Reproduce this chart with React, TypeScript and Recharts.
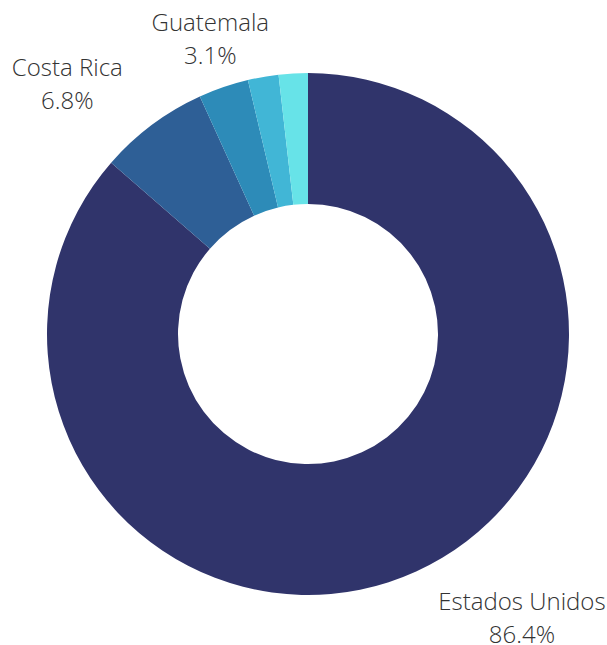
import { PieChart, Pie, Cell } from "recharts";

const countries = ["Estados Unidos", "Costa Rica", "Guatemala", "Otros A", "Otros B"];
const shares = [86.4, 6.8, 3.1, 1.9, 1.8];
const colors = ["#30346b", "#2e5f96", "#2d8bb8", "#41b6d6", "#67e3e8"];
const labeled = ["Estados Unidos", "Costa Rica", "Guatemala"];

const data = countries.map((name, i) => ({ name, value: shares[i] }));

const RADIAN = Math.PI / 180;
const FONT = "300 24px 'Open Sans', sans-serif";

let ctx: CanvasRenderingContext2D | null = null;
const textWidth = (s: string) => {
  if (!ctx) ctx = document.createElement("canvas").getContext("2d");
  if (!ctx) return s.length * 12;
  ctx.font = FONT;
  return ctx.measureText(s).width;
};

const renderLabel = (props: any) => {
  const { cx, cy, midAngle, outerRadius, name, value } = props;
  if (!labeled.includes(name)) return null;
  const r = outerRadius + 22;
  const cos = Math.cos(-midAngle * RADIAN);
  const sin = Math.sin(-midAngle * RADIAN);
  const px = cx + r * cos;
  const py = cy + r * sin;
  const half = textWidth(name) / 2;
  // lines are centred on each other; block pushed out from the ring
  let x = px - 6;
  if (cos > 0.4) x = px + 13 + half;
  else if (cos < -0.4) x = px - 16 - half;
  const centerY = py + 29 * sin;
  return (
    <text
      x={x}
      textAnchor="middle"
      fill="#333333"
      fontSize={24}
      fontWeight={300}
      fontFamily="'Open Sans', sans-serif"
    >
      <tspan x={x} y={centerY - 8}>
        {name}
      </tspan>
      <tspan x={x} y={centerY + 25}>
        {value.toFixed(1)}%
      </tspan>
    </text>
  );
};

const App = () => {
  return (
    <div style={{ position: "absolute", left: 0, top: 0 }}>
      <PieChart width={607} height={645} margin={{ top: 0, right: 0, bottom: 0, left: 0 }}>
        <Pie
          data={data}
          dataKey="value"
          nameKey="name"
          cx={308}
          cy={334}
          innerRadius={130}
          outerRadius={261}
          startAngle={90}
          endAngle={-270}
          stroke="none"
          label={renderLabel}
          labelLine={false}
          isAnimationActive={false}
        >
          {data.map((d, i) => (
            <Cell key={d.name} fill={colors[i]} />
          ))}
        </Pie>
      </PieChart>
    </div>
  );
};

export default App;
